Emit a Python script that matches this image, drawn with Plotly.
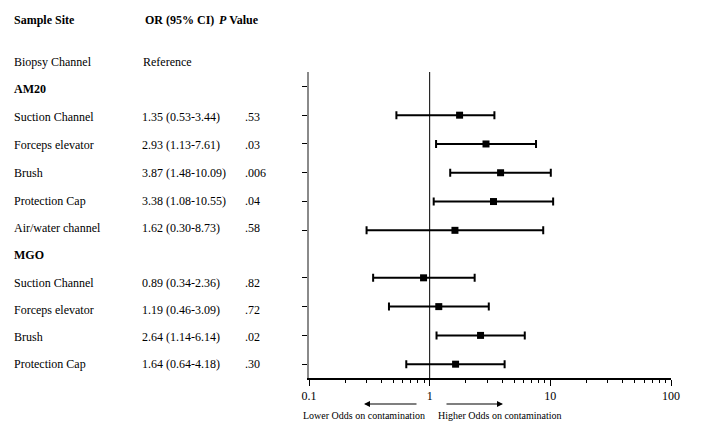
import plotly.graph_objects as go

# ---------------- data ----------------
am20_sites = ["Suction Channel", "Forceps elevator", "Brush", "Protection Cap", "Air/water channel"]
am20_or_text = ["1.35 (0.53-3.44)", "2.93 (1.13-7.61)", "3.87 (1.48-10.09)", "3.38 (1.08-10.55)", "1.62 (0.30-8.73)"]
am20_p_text = [".53", ".03", ".006", ".04", ".58"]
am20_or = [1.77, 2.93, 3.87, 3.38, 1.62]          # point estimates as drawn
am20_lo = [0.53, 1.13, 1.48, 1.08, 0.30]
am20_hi = [3.44, 7.61, 10.09, 10.55, 8.73]

mgo_sites = ["Suction Channel", "Forceps elevator", "Brush", "Protection Cap"]
mgo_or_text = ["0.89 (0.34-2.36)", "1.19 (0.46-3.09)", "2.64 (1.14-6.14)", "1.64 (0.64-4.18)"]
mgo_p_text = [".82", ".72", ".02", ".30"]
mgo_or = [0.89, 1.19, 2.64, 1.64]
mgo_lo = [0.34, 0.46, 1.14, 0.64]
mgo_hi = [2.36, 3.09, 6.14, 4.18]

x_tick_vals = [0.1, 1, 10, 100]
x_tick_text = ["0.1", "1", "10", "100"]

# ---------------- layout helpers ----------------
W, H = 706, 432
PL, PR, PT, PB = 309, 671, 72, 378
FONT = "Liberation Serif"

def px(x):
    return (x - PL) / (PR - PL)

def py(y):
    return (PB - y) / (PB - PT)

# row slots on the y axis (reversed)
Y_MAX = 10.63
am20_header_slot = 0.5
am20_slots = [1.5, 2.5, 3.5, 4.5, 5.5]
mgo_slots = [7.15, 8.15, 9.15, 10.15]

fig = go.Figure()

# reference line at OR = 1
fig.add_trace(go.Scatter(x=[1, 1], y=[0, Y_MAX], mode="lines",
                         line=dict(color="black", width=1), hoverinfo="skip"))

for ors, lo, hi, slots in [(am20_or, am20_lo, am20_hi, am20_slots),
                           (mgo_or, mgo_lo, mgo_hi, mgo_slots)]:
    fig.add_trace(go.Scatter(
        x=ors, y=slots, mode="markers",
        marker=dict(symbol="square", size=7, color="black"),
        error_x=dict(type="data", symmetric=False,
                     array=[h - o for h, o in zip(hi, ors)],
                     arrayminus=[o - l for o, l in zip(ors, lo)],
                     color="black", thickness=2, width=4),
    ))

ann = []
def txt(s, x, y, size=12, anchor="left"):
    ann.append(dict(text=s, x=px(x), y=py(y), xref="paper", yref="paper",
                    xanchor=anchor, yanchor="middle", showarrow=False,
                    font=dict(family=FONT, size=size, color="black")))

# header
txt("<b>Sample Site</b>", 12, 20)
txt("<b>OR (95% CI)</b>", 143, 20)
txt("<b><i>P</i> Value</b>", 217, 20)

txt("Biopsy Channel", 12, 62)
txt("Reference", 141, 62)
txt("<b>AM20</b>", 12, 89)
am20_text_y = [117, 145, 173, 201, 228]
for s, o, p, y in zip(am20_sites, am20_or_text, am20_p_text, am20_text_y):
    txt(s, 12, y); txt(o, 140, y); txt(p, 243, y)
txt("<b>MGO</b>", 12, 255)
mgo_text_y = [283, 310, 337, 364]
for s, o, p, y in zip(mgo_sites, mgo_or_text, mgo_p_text, mgo_text_y):
    txt(s, 12, y); txt(o, 140, y); txt(p, 243, y)

# arrows and captions below the axis
for head, tail in [(364, 418), (503, 445)]:
    ann.append(dict(text="", x=px(head), y=py(404), xref="paper", yref="paper",
                    ax=tail - head, ay=0, showarrow=True, arrowhead=2,
                    arrowsize=1, arrowwidth=1.2, arrowcolor="black"))
txt("Lower Odds on contamination", 364, 415, size=10, anchor="center")
txt("Higher Odds on contamination", 500, 415, size=10, anchor="center")

minor_vals = [m * d for d in (0.1, 1, 10) for m in range(2, 10)]

fig.update_layout(
    width=W, height=H,
    margin=dict(l=PL, r=W - PR, t=PT, b=H - PB, pad=0),
    paper_bgcolor="white", plot_bgcolor="white",
    showlegend=False,
    annotations=ann,
    xaxis=dict(type="log", range=[-1, 2], tickmode="array",
               tickvals=x_tick_vals, ticktext=x_tick_text,
               ticks="outside", ticklen=6, tickwidth=1, tickcolor="black",
               showline=True, linecolor="black", linewidth=1.5,
               showgrid=False, zeroline=False,
               tickfont=dict(family=FONT, size=12, color="black"),
               minor=dict(tickmode="array", tickvals=minor_vals, ticks="outside",
                          ticklen=3, tickwidth=1, tickcolor="black", showgrid=False)),
    yaxis=dict(range=[Y_MAX, 0], tickmode="array",
               tickvals=[am20_header_slot] + am20_slots + mgo_slots,
               ticks="outside", ticklen=5, tickwidth=1, tickcolor="black",
               showticklabels=False, showline=True, linecolor="#8a8a8a", linewidth=2,
               showgrid=False, zeroline=False),
)

fig.write_html("out.html", config={"displayModeBar": False},
               post_script=["document.body.style.margin='0px';document.body.style.overflow='hidden';"])
